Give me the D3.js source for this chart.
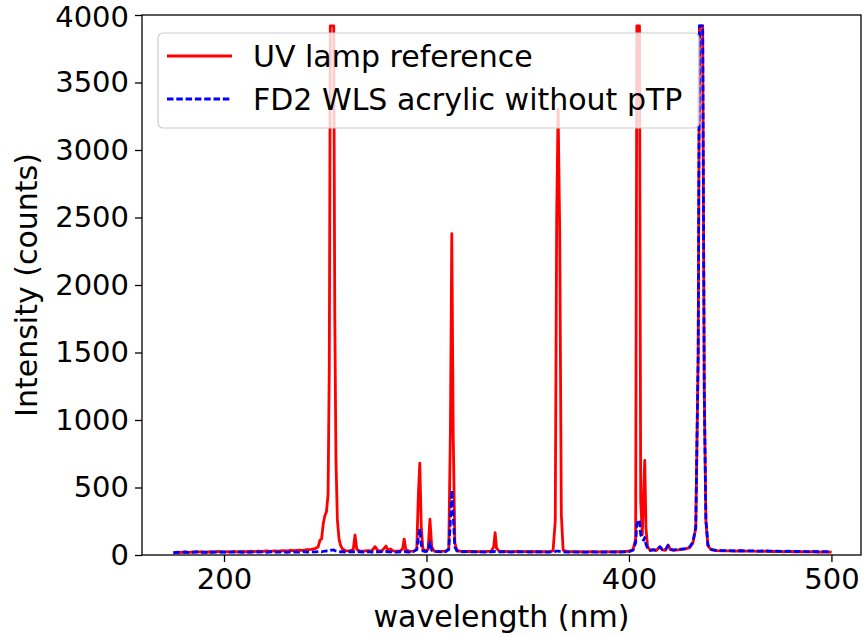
<!DOCTYPE html>
<html>
<head>
<meta charset="utf-8">
<script src="https://cdn.jsdelivr.net/npm/d3@7/dist/d3.min.js"></script>
<style>
  html, body { margin: 0; padding: 0; background: #ffffff; }
  svg { display: block; }
  text { font-family: "DejaVu Sans", sans-serif; fill: #000; }
</style>
</head>
<body>
<svg id="chart" width="864" height="637"></svg>
<script>
// Wavelength samples (nm), shared by both spectra
const wavelength = [
  175, 177, 179, 181, 183, 185, 187, 189, 191, 193,
  195, 197, 199, 201, 203, 205, 207, 209, 211, 213,
  215, 217, 219, 221, 223, 225, 227, 229, 231, 233,
  235, 237, 239, 241, 243, 245, 246.5, 247.4, 248.2, 249.0,
  249.8, 250.6, 251.4, 252.0, 252.5, 254.2, 254.7, 255.3, 256.0, 256.8,
  257.6, 258.5, 260, 262, 263.8, 264.7, 265.6, 267, 269, 271,
  273, 274.6, 276, 278, 280, 281, 282.2, 283.5, 285, 287,
  288.2, 289.0, 289.8, 291.5, 293.5, 295.2, 296.0, 296.7, 297.4, 298.2,
  299.5, 300.8, 301.7, 302.6, 303.8, 305.5, 307.5, 309.5, 311.0, 311.8,
  312.5, 313.2, 314.0, 315.0, 317, 320, 323, 326, 329, 332,
  333.2, 333.9, 334.6, 336, 339, 342, 345, 348, 351, 354,
  357, 360, 362.5, 363.6, 364.3, 365.0, 365.8, 366.6, 367.5, 370,
  373, 376, 379, 382, 385, 388, 391, 394, 397, 400,
  402.0, 403.3, 403.9, 405.2, 405.8, 406.6, 407.3, 407.8, 408.4, 409.2,
  410.5, 412, 413.5, 415.3, 416.5, 418, 419.3, 420.5, 422, 424,
  426, 428, 430, 431.6, 433, 434.2, 434.8, 436.4, 437.2, 438,
  439, 440.5, 443, 446, 449, 452, 455, 458, 461, 464,
  467, 470, 473, 476, 479, 482, 485, 488, 491, 494,
  497, 500
];

// UV lamp reference spectrum (counts)
const lampCounts = [
  18, 22, 20, 24, 19, 23, 21, 25, 20, 24,
  22, 26, 21, 25, 23, 27, 22, 26, 24, 28,
  25, 29, 26, 30, 27, 31, 28, 33, 30, 35,
  32, 36, 34, 40, 42, 48, 60, 110, 120, 230,
  290, 320, 450, 1400, 3920, 3920, 1800, 700, 260, 120,
  70, 45, 32, 30, 38, 148, 40, 30, 28, 32,
  30, 62, 32, 30, 66, 35, 45, 30, 28, 30,
  45, 118, 40, 28, 27, 40, 450, 680, 220, 45,
  30, 40, 265, 60, 28, 26, 27, 28, 45, 900,
  2380, 900, 90, 35, 27, 26, 27, 25, 26, 28,
  60, 165, 50, 27, 26, 25, 26, 25, 26, 24,
  25, 24, 30, 250, 2500, 3300, 2400, 300, 35, 25,
  24, 25, 23, 24, 23, 24, 23, 25, 24, 28,
  40, 120, 3920, 3920, 400, 150, 500, 700, 200, 60,
  35, 38, 33, 62, 38, 35, 74, 40, 35, 38,
  42, 45, 55, 90, 200, 1500, 3920, 3920, 1200, 250,
  70, 40, 33, 30, 31, 29, 30, 28, 29, 27,
  28, 26, 27, 25, 26, 24, 25, 23, 24, 22,
  23, 21
];

// FD2 WLS acrylic without pTP spectrum (counts)
const wlsCounts = [
  15, 20, 18, 22, 17, 21, 24, 19, 22, 18,
  23, 20, 24, 19, 22, 21, 25, 20, 23, 19,
  24, 21, 23, 20, 24, 22, 21, 25, 20, 24,
  22, 21, 25, 22, 24, 23, 25, 26, 24, 27,
  28, 30, 29, 32, 35, 38, 34, 30, 28, 26,
  24, 25, 22, 24, 23, 25, 22, 24, 21, 25,
  22, 24, 23, 25, 26, 24, 23, 25, 22, 24,
  23, 26, 24, 22, 25, 40, 130, 195, 80, 30,
  25, 30, 95, 35, 24, 25, 23, 26, 40, 250,
  480, 300, 60, 30, 24, 25, 23, 24, 22, 24,
  25, 26, 24, 23, 24, 22, 24, 23, 22, 24,
  23, 22, 24, 26, 28, 29, 27, 25, 23, 22,
  23, 21, 22, 23, 21, 22, 23, 22, 23, 25,
  35, 90, 230, 260, 150, 120, 110, 130, 80, 50,
  35, 40, 35, 60, 40, 38, 70, 42, 38, 40,
  44, 48, 60, 95, 210, 1500, 3920, 3920, 1200, 260,
  75, 42, 35, 32, 33, 31, 32, 30, 31, 29,
  30, 28, 29, 27, 28, 26, 27, 25, 26, 24,
  25, 23
];

const xTicks = [200, 300, 400, 500];
const yTicks = [0, 500, 1000, 1500, 2000, 2500, 3000, 3500, 4000];

const seriesNames = ["UV lamp reference", "FD2 WLS acrylic without pTP"];
const seriesColors = ["#ff0000", "#0000ff"];

const W = 864, H = 637;
const frame = { left: 142, right: 861, top: 15, bottom: 555 };
const TICK_FONT = 29;
const LABEL_FONT = 30;
const LINE_W = 2.8;
const DASH = "6.5,2.8";

const svg = d3.select("#chart");

const x = d3.scaleLinear()
  .domain([159.5, 514.6])
  .range([frame.left, frame.right]);
const y = d3.scaleLinear()
  .domain([0, 4000])
  .range([frame.bottom, frame.top]);

svg.append("defs").append("clipPath").attr("id", "plot-clip")
  .append("rect")
  .attr("x", frame.left).attr("y", frame.top)
  .attr("width", frame.right - frame.left)
  .attr("height", frame.bottom - frame.top);

const rows = (counts) => wavelength.map((w, i) => [w, counts[i]]);
const line = d3.line().x(d => x(d[0])).y(d => y(d[1]));

const plot = svg.append("g").attr("clip-path", "url(#plot-clip)");

plot.append("path")
  .datum(rows(lampCounts))
  .attr("d", line)
  .attr("fill", "none")
  .attr("stroke", seriesColors[0])
  .attr("stroke-width", LINE_W)
  .attr("stroke-linejoin", "round");

plot.append("path")
  .datum(rows(wlsCounts))
  .attr("d", line)
  .attr("fill", "none")
  .attr("stroke", seriesColors[1])
  .attr("stroke-width", LINE_W)
  .attr("stroke-dasharray", DASH)
  .attr("stroke-linejoin", "round");

// axes
const xAxis = svg.append("g")
  .attr("transform", `translate(0,${frame.bottom})`)
  .call(d3.axisBottom(x).tickValues(xTicks).tickSize(7).tickPadding(6).tickFormat(d3.format("d")));
const yAxis = svg.append("g")
  .attr("transform", `translate(${frame.left},0)`)
  .call(d3.axisLeft(y).tickValues(yTicks).tickSize(7).tickPadding(6).tickFormat(d3.format("d")));

[xAxis, yAxis].forEach(g => {
  g.select(".domain").remove();
  g.selectAll(".tick line").attr("stroke", "#000").attr("stroke-width", 1.3);
  g.selectAll(".tick text")
    .attr("font-family", "DejaVu Sans, sans-serif")
    .attr("font-size", TICK_FONT)
    .attr("fill", "#000");
});
// keep the top tick label inside the canvas
yAxis.selectAll(".tick text").filter(d => d === 4000).attr("dy", "0.38em");

// frame
svg.append("rect")
  .attr("x", frame.left).attr("y", frame.top)
  .attr("width", frame.right - frame.left)
  .attr("height", frame.bottom - frame.top)
  .attr("fill", "none")
  .attr("stroke", "#000")
  .attr("stroke-width", 1.3);

// axis titles
svg.append("text")
  .attr("x", (frame.left + frame.right) / 2)
  .attr("y", 627)
  .attr("text-anchor", "middle")
  .attr("font-size", LABEL_FONT)
  .text("wavelength (nm)");

svg.append("text")
  .attr("transform", `translate(37,${(frame.top + frame.bottom) / 2}) rotate(-90)`)
  .attr("text-anchor", "middle")
  .attr("font-size", LABEL_FONT)
  .text("Intensity (counts)");

// legend
const legend = svg.append("g");
legend.append("rect")
  .attr("x", 158).attr("y", 33)
  .attr("width", 541).attr("height", 95)
  .attr("rx", 5).attr("ry", 5)
  .attr("fill", "#ffffff").attr("fill-opacity", 0.8)
  .attr("stroke", "#cccccc").attr("stroke-width", 1.2);

seriesNames.forEach((name, i) => {
  const cy = 56 + i * 43;
  legend.append("line")
    .attr("x1", 167).attr("x2", 232)
    .attr("y1", cy).attr("y2", cy)
    .attr("stroke", seriesColors[i])
    .attr("stroke-width", LINE_W)
    .attr("stroke-dasharray", i === 1 ? DASH : null);
  legend.append("text")
    .attr("x", 253).attr("y", cy)
    .attr("dy", "0.36em")
    .attr("font-size", LABEL_FONT)
    .text(name);
});
</script>
</body>
</html>
